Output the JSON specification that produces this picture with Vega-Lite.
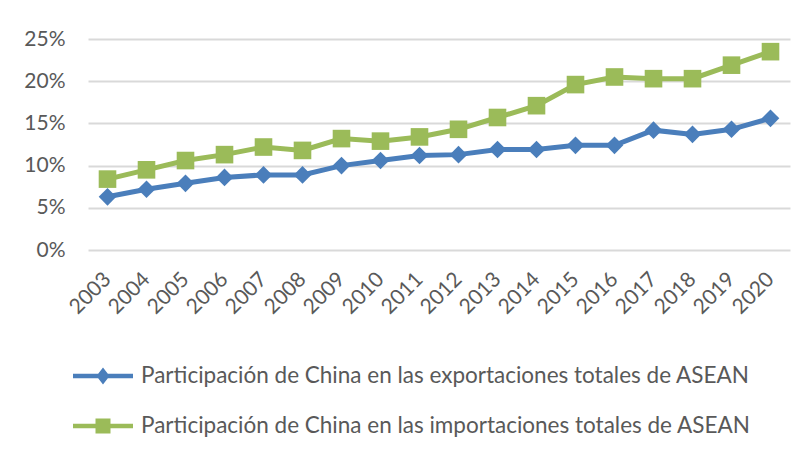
{
  "$schema": "https://vega.github.io/schema/vega-lite/v6.json",
  "width": 702,
  "height": 211,
  "autosize": "none",
  "padding": {"left": 88, "top": 39, "right": 20, "bottom": 207},
  "background": "white",
  "config": {
    "view": {"stroke": null},
    "font": "Lato",
    "axis": {"labelFont": "Lato", "labelColor": "#595959", "labelFontSize": 21, "domain": false, "ticks": false, "grid": false, "title": null}
  },
  "data": {
    "values": [
      {"year": "2003", "serie": "exp", "v": 6.3}, {"year": "2004", "serie": "exp", "v": 7.2},
      {"year": "2005", "serie": "exp", "v": 7.9}, {"year": "2006", "serie": "exp", "v": 8.6},
      {"year": "2007", "serie": "exp", "v": 8.9}, {"year": "2008", "serie": "exp", "v": 8.9},
      {"year": "2009", "serie": "exp", "v": 10.0}, {"year": "2010", "serie": "exp", "v": 10.6},
      {"year": "2011", "serie": "exp", "v": 11.2}, {"year": "2012", "serie": "exp", "v": 11.3},
      {"year": "2013", "serie": "exp", "v": 11.9}, {"year": "2014", "serie": "exp", "v": 11.9},
      {"year": "2015", "serie": "exp", "v": 12.4}, {"year": "2016", "serie": "exp", "v": 12.4},
      {"year": "2017", "serie": "exp", "v": 14.2}, {"year": "2018", "serie": "exp", "v": 13.7},
      {"year": "2019", "serie": "exp", "v": 14.3}, {"year": "2020", "serie": "exp", "v": 15.6},
      {"year": "2003", "serie": "imp", "v": 8.4}, {"year": "2004", "serie": "imp", "v": 9.5},
      {"year": "2005", "serie": "imp", "v": 10.6}, {"year": "2006", "serie": "imp", "v": 11.3},
      {"year": "2007", "serie": "imp", "v": 12.2}, {"year": "2008", "serie": "imp", "v": 11.8},
      {"year": "2009", "serie": "imp", "v": 13.2}, {"year": "2010", "serie": "imp", "v": 12.9},
      {"year": "2011", "serie": "imp", "v": 13.4}, {"year": "2012", "serie": "imp", "v": 14.3},
      {"year": "2013", "serie": "imp", "v": 15.7}, {"year": "2014", "serie": "imp", "v": 17.1},
      {"year": "2015", "serie": "imp", "v": 19.6}, {"year": "2016", "serie": "imp", "v": 20.5},
      {"year": "2017", "serie": "imp", "v": 20.3}, {"year": "2018", "serie": "imp", "v": 20.3},
      {"year": "2019", "serie": "imp", "v": 21.9}, {"year": "2020", "serie": "imp", "v": 23.5}
    ]
  },
  "encoding": {
    "x": {"field": "year", "type": "ordinal", "scale": {"type": "point", "padding": 0.5},
          "axis": {"labelAngle": -45, "labelAlign": "right", "labelBaseline": "middle", "labelPadding": 26}},
    "y": {"field": "v", "type": "quantitative", "scale": {"domain": [0, 25]},
          "axis": {"values": [0, 5, 10, 15, 20, 25], "labelExpr": "datum.value + '%'", "grid": true, "gridColor": "#d9d9d9", "gridWidth": 2, "labelPadding": 23}},
    "color": {"field": "serie", "type": "nominal",
      "scale": {"domain": ["exp", "imp"], "range": ["#4a7ebb", "#9bbb59"]},
      "legend": {
        "orient": "none", "legendX": -15, "legendY": 325, "direction": "vertical", "title": null,
        "labelExpr": "datum.value == 'exp' ? 'Participación de China en las exportaciones totales de ASEAN' : 'Participación de China en las importaciones totales de ASEAN'",
        "labelFont": "Lato", "labelFontSize": 22.5, "labelColor": "#595959", "labelLimit": 800,
        "symbolSize": 3600, "clipHeight": 24, "rowPadding": 26, "labelOffset": 8,
        "encode": {
          "symbols": {"update": {
            "shape": {"signal": "datum.value == 'exp' ? 'M-1,-0.075L1,-0.075L1,0.075L-1,0.075Z M0,-0.28L0.22,0L0,0.28L-0.22,0Z' : 'M-1,-0.075L1,-0.075L1,0.075L-1,0.075Z M-0.25,-0.25L0.25,-0.25L0.25,0.25L-0.25,0.25Z'"},
            "fill": {"signal": "datum.value == 'exp' ? '#4a7ebb' : '#9bbb59'"},
            "stroke": {"value": "transparent"},
            "strokeWidth": {"value": 0},
            "size": {"value": 3600},
            "opacity": {"value": 1}
          }}
        }
      }}
  },
  "layer": [
    {"mark": {"type": "line", "strokeWidth": 5}},
    {"mark": {"type": "point", "filled": true, "opacity": 1, "size": 310},
     "encoding": {"shape": {"condition": {"test": "datum.serie == 'exp'", "value": "diamond"}, "value": "square"}}}
  ]
}
